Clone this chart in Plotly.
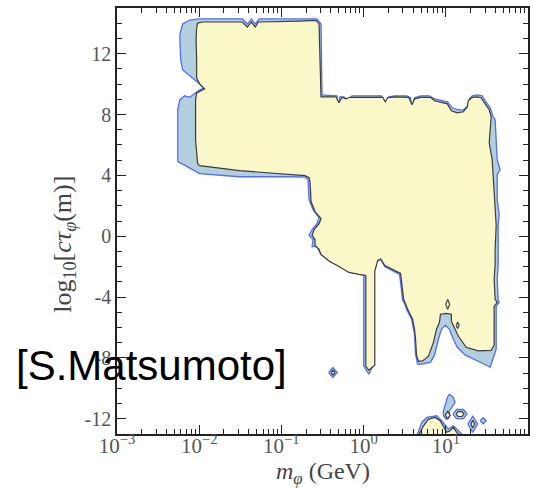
import plotly.graph_objects as go

# Contour boundaries as (log10 m_phi [GeV], log10 c*tau [m]) pairs.
# Outer (blue) contour, main region
outer_main = [
    (-2.237, 13.23), (-2.201, 13.95), (-2.116, 14.21), (-1.995, 14.28), (-1.475, 14.28),
    (-1.414, 13.95), (-1.366, 14.28), (-1.317, 13.95), (-1.269, 14.28), (-0.567, 14.28),
    (-0.518, 13.95), (-0.512, 11.59), (-0.506, 9.29), (-0.421, 9.26), (-0.324, 9.23),
    (-0.312, 8.31), (-0.288, 9.16), (-0.240, 9.16), (-0.191, 8.90), (-0.143, 9.23),
    (0.220, 9.23), (0.263, 8.64), (0.305, 9.16), (0.378, 9.23), (0.523, 9.23),
    (0.571, 9.10), (0.590, 8.44), (0.620, 9.10), (0.692, 9.23), (0.801, 9.23),
    (0.862, 9.03), (1.019, 8.83), (1.080, 8.44), (1.153, 8.31), (1.213, 8.31),
    (1.274, 8.57), (1.286, 9.03), (1.322, 9.23), (1.383, 9.29), (1.443, 9.23),
    (1.479, 8.90), (1.540, 8.44), (1.576, 7.85), (1.600, 7.65), (1.613, 6.34),
    (1.625, 5.03), (1.661, 4.37), (1.625, 4.05), (1.625, 2.41), (1.649, 1.42),
    (1.637, 0.70), (1.637, -0.22), (1.637, -1.86), (1.625, -2.84), (1.637, -4.22),
    (1.649, -4.35), (1.613, -4.61), (1.613, -7.43), (1.540, -8.61), (1.395, -8.22),
    (1.237, -7.82), (1.140, -7.30), (1.092, -6.77), (1.044, -6.12), (0.995, -5.86),
    (0.947, -6.12), (0.910, -6.77), (0.862, -7.82), (0.814, -8.28), (0.717, -8.41),
    (0.656, -8.41), (0.632, -7.76), (0.620, -6.45), (0.584, -5.46), (0.523, -4.81),
    (0.499, -4.41), (0.475, -4.22), (0.438, -2.51), (0.257, -1.99), (0.208, -1.53),
    (0.160, -1.66), (0.123, -2.31), (0.123, -8.41), (0.063, -9.07), (0.002, -8.54),
    (0.002, -2.58), (-0.070, -2.45), (-0.179, -2.31), (-0.300, -1.92), (-0.409, -1.66),
    (-0.518, -1.20), (-0.567, -0.68), (-0.627, -0.68), (-0.615, -0.22), (-0.664, 0.05),
    (-0.627, 0.44), (-0.567, 0.83), (-0.542, 1.23), (-0.615, 1.75), (-0.664, 2.41),
    (-0.676, 3.72), (-0.712, 3.88), (-0.906, 3.91), (-1.511, 3.91), (-1.995, 4.11),
    (-2.177, 4.67), (-2.261, 4.90), (-2.261, 6.34), (-2.261, 8.31), (-2.237, 8.96),
    (-2.177, 9.23), (-2.116, 9.13), (-1.995, 9.62), (-1.935, 9.75), (-2.007, 10.08),
    (-2.201, 10.93), (-2.225, 11.59),
]

# Inner (yellow) contour, main region
inner_main = [
    (-2.031, 13.69), (-2.019, 14.01), (-1.959, 14.08), (-1.475, 14.08), (-1.414, 13.75),
    (-1.366, 14.08), (-1.317, 13.75), (-1.281, 14.08), (-0.785, 14.14), (-0.579, 14.18),
    (-0.542, 13.95), (-0.530, 11.59), (-0.518, 9.16), (-0.337, 9.16), (-0.300, 8.77),
    (-0.264, 9.13), (-0.215, 9.03), (-0.167, 9.13), (0.232, 9.13), (0.263, 8.83),
    (0.293, 9.10), (0.378, 9.16), (0.547, 9.13), (0.590, 8.64), (0.620, 9.03),
    (0.692, 9.13), (0.814, 9.13), (0.862, 8.90), (1.019, 8.70), (1.068, 8.24),
    (1.140, 8.11), (1.213, 8.18), (1.261, 8.50), (1.274, 8.90), (1.322, 9.13),
    (1.383, 9.16), (1.431, 9.10), (1.479, 8.70), (1.528, 8.31), (1.552, 7.85),
    (1.540, 7.00), (1.528, 6.14), (1.564, 5.03), (1.576, 4.05), (1.588, 2.41),
    (1.600, 1.42), (1.613, 0.70), (1.600, -0.87), (1.600, -1.86), (1.588, -2.84),
    (1.600, -4.15), (1.625, -4.35), (1.588, -4.61), (1.588, -7.17), (1.552, -7.50),
    (1.395, -7.54), (1.249, -7.30), (1.153, -6.58), (1.068, -5.59), (1.068, -5.13),
    (1.007, -5.07), (0.935, -5.13), (0.923, -5.66), (0.886, -6.12), (0.850, -6.96),
    (0.789, -7.89), (0.717, -8.20), (0.668, -8.22), (0.644, -7.82), (0.632, -6.77),
    (0.620, -6.12), (0.596, -5.46), (0.547, -4.94), (0.487, -4.15), (0.450, -2.45),
    (0.257, -1.92), (0.208, -1.50), (0.172, -1.59), (0.136, -2.31), (0.136, -8.48),
    (0.063, -8.81), (0.027, -8.54), (0.027, -2.58), (-0.058, -2.51), (-0.179, -2.38),
    (-0.300, -1.99), (-0.421, -1.63), (-0.518, -1.20), (-0.542, -0.87), (-0.591, -0.61),
    (-0.591, -0.22), (-0.627, 0.05), (-0.603, 0.44), (-0.542, 0.83), (-0.518, 1.16),
    (-0.591, 1.62), (-0.639, 2.28), (-0.651, 3.52), (-0.664, 3.85), (-0.712, 3.98),
    (-1.027, 4.11), (-1.511, 4.31), (-1.995, 4.64), (-2.019, 4.77), (-2.044, 6.34),
    (-2.044, 8.96), (-2.031, 9.42), (-1.935, 9.69), (-1.995, 10.01), (-2.031, 10.41),
    (-2.031, 11.59), (-2.038, 12.90),
]

# Small outer islands
outer_islands = [
    [(-0.425, -8.96), (-0.373, -8.63), (-0.321, -8.96), (-0.373, -9.29)],
    [(0.648, -13.11), (0.708, -12.24), (0.769, -11.91), (0.890, -11.80), (0.950, -12.13),
     (1.031, -12.68), (1.092, -12.46), (1.153, -12.79), (1.213, -13.11)],
    [(1.044, -10.38), (1.092, -10.60), (1.113, -10.93), (1.044, -11.48), (1.044, -11.89),
     (1.002, -12.02), (0.971, -11.80), (0.971, -11.48), (1.002, -10.93), (1.019, -10.58)],
    [(1.088, -11.69), (1.130, -11.39), (1.216, -11.39), (1.258, -11.69), (1.216, -11.99),
     (1.130, -11.99)],
    [(1.268, -12.35), (1.328, -11.83), (1.388, -12.35), (1.328, -12.87)],
    [(1.419, -12.13), (1.455, -11.93), (1.491, -12.13), (1.455, -12.33)],
]

# Small inner islands
inner_islands = [
    [(-0.397, -8.96), (-0.373, -8.80), (-0.349, -8.96), (-0.373, -9.12)],
    [(0.999, -4.48), (1.023, -4.15), (1.047, -4.48), (1.023, -4.81)],
    [(1.126, -5.86), (1.144, -5.66), (1.162, -5.86), (1.144, -6.06)],
    [(0.668, -13.11), (0.729, -12.46), (0.789, -12.02), (0.870, -11.91), (0.931, -12.13),
     (0.971, -12.56), (1.011, -12.89), (1.052, -12.79), (1.092, -12.56), (1.132, -12.89),
     (1.173, -13.11)],
    [(0.993, -11.76), (1.023, -11.51), (1.053, -11.76), (1.023, -12.01)],
    [(1.125, -11.69), (1.149, -11.53), (1.197, -11.53), (1.221, -11.69), (1.197, -11.85),
     (1.149, -11.85)],
    [(1.304, -12.35), (1.328, -12.09), (1.352, -12.35), (1.328, -12.61)],
]

x_exponents = [-3, -2, -1, 0, 1, 2]
y_ticks = [-12, -8, -4, 0, 4, 8, 12]

BLUE_FILL = "#b3cedc"
BLUE_LINE = "#4f6ef5"
YELLOW_FILL = "#faf7c8"
DARK_LINE = "#3c3c3c"


def polygon(points, fill, line, width):
    xs = [10 ** p[0] for p in points] + [10 ** points[0][0]]
    ys = [p[1] for p in points] + [points[0][1]]
    return go.Scatter(x=xs, y=ys, mode="lines", fill="toself", fillcolor=fill,
                      line=dict(color=line, width=width), hoverinfo="skip",
                      showlegend=False)


fig = go.Figure()
for poly in [outer_main] + outer_islands:
    fig.add_trace(polygon(poly, BLUE_FILL, BLUE_LINE, 1.3))
for poly in [inner_main] + inner_islands:
    fig.add_trace(polygon(poly, YELLOW_FILL, DARK_LINE, 1.2))

serif = "Liberation Serif"
minor_x = [k * 10.0 ** e for e in range(-3, 2) for k in range(2, 10)]

fig.update_xaxes(
    type="log", range=[-3, 2],
    tickvals=[10.0 ** e for e in x_exponents],
    ticktext=["10<sup>%s</sup>" % str(e).replace("-", "−") for e in x_exponents],
    ticks="inside", ticklen=9, tickwidth=1.3, tickcolor="#222",
    minor=dict(tickvals=minor_x, ticks="inside", ticklen=5, tickwidth=1.2, tickcolor="#222",
               showgrid=False),
    showline=True, linecolor="#222", linewidth=1.6, mirror="ticks",
    showgrid=False, zeroline=False, ticklabelstandoff=-8,
    tickfont=dict(family=serif, size=21, color="#555"),
)
fig.update_yaxes(
    range=[-13, 15],
    tickvals=y_ticks, ticktext=[str(v) for v in y_ticks],
    ticks="inside", ticklen=9, tickwidth=1.3, tickcolor="#222",
    minor=dict(dtick=1, tick0=0, ticks="inside", ticklen=5, tickwidth=1.2, tickcolor="#222",
               showgrid=False),
    showline=True, linecolor="#222", linewidth=1.6, mirror="ticks",
    showgrid=False, zeroline=False,
    tickfont=dict(family=serif, size=20, color="#555"),
)

# Axis titles
fig.add_annotation(
    text="<i>m</i><sub><i>φ</i></sub> (GeV)", xref="paper", yref="paper",
    x=0.5, y=-0.091, xanchor="center", yanchor="middle", showarrow=False,
    font=dict(family=serif, size=24, color="#444"),
)
fig.add_annotation(
    text="log<sub>10</sub>[<i>cτ</i><sub><i>φ</i></sub>(m)]", xref="paper", yref="paper",
    x=-0.128, y=0.445, xanchor="center", yanchor="middle", textangle=-90, showarrow=False,
    font=dict(family=serif, size=26, color="#444"),
)

fig.add_annotation(
    text="[S.Matsumoto]", xref="paper", yref="paper", x=0.085, y=0.16,
    xanchor="center", yanchor="middle", showarrow=False,
    font=dict(family="Liberation Sans", size=42, color="#000"),
)

fig.update_layout(
    width=534, height=488,
    margin=dict(l=117, r=4, t=8, b=54),
    paper_bgcolor="white", plot_bgcolor="white",
)

fig.write_html("out.html")
